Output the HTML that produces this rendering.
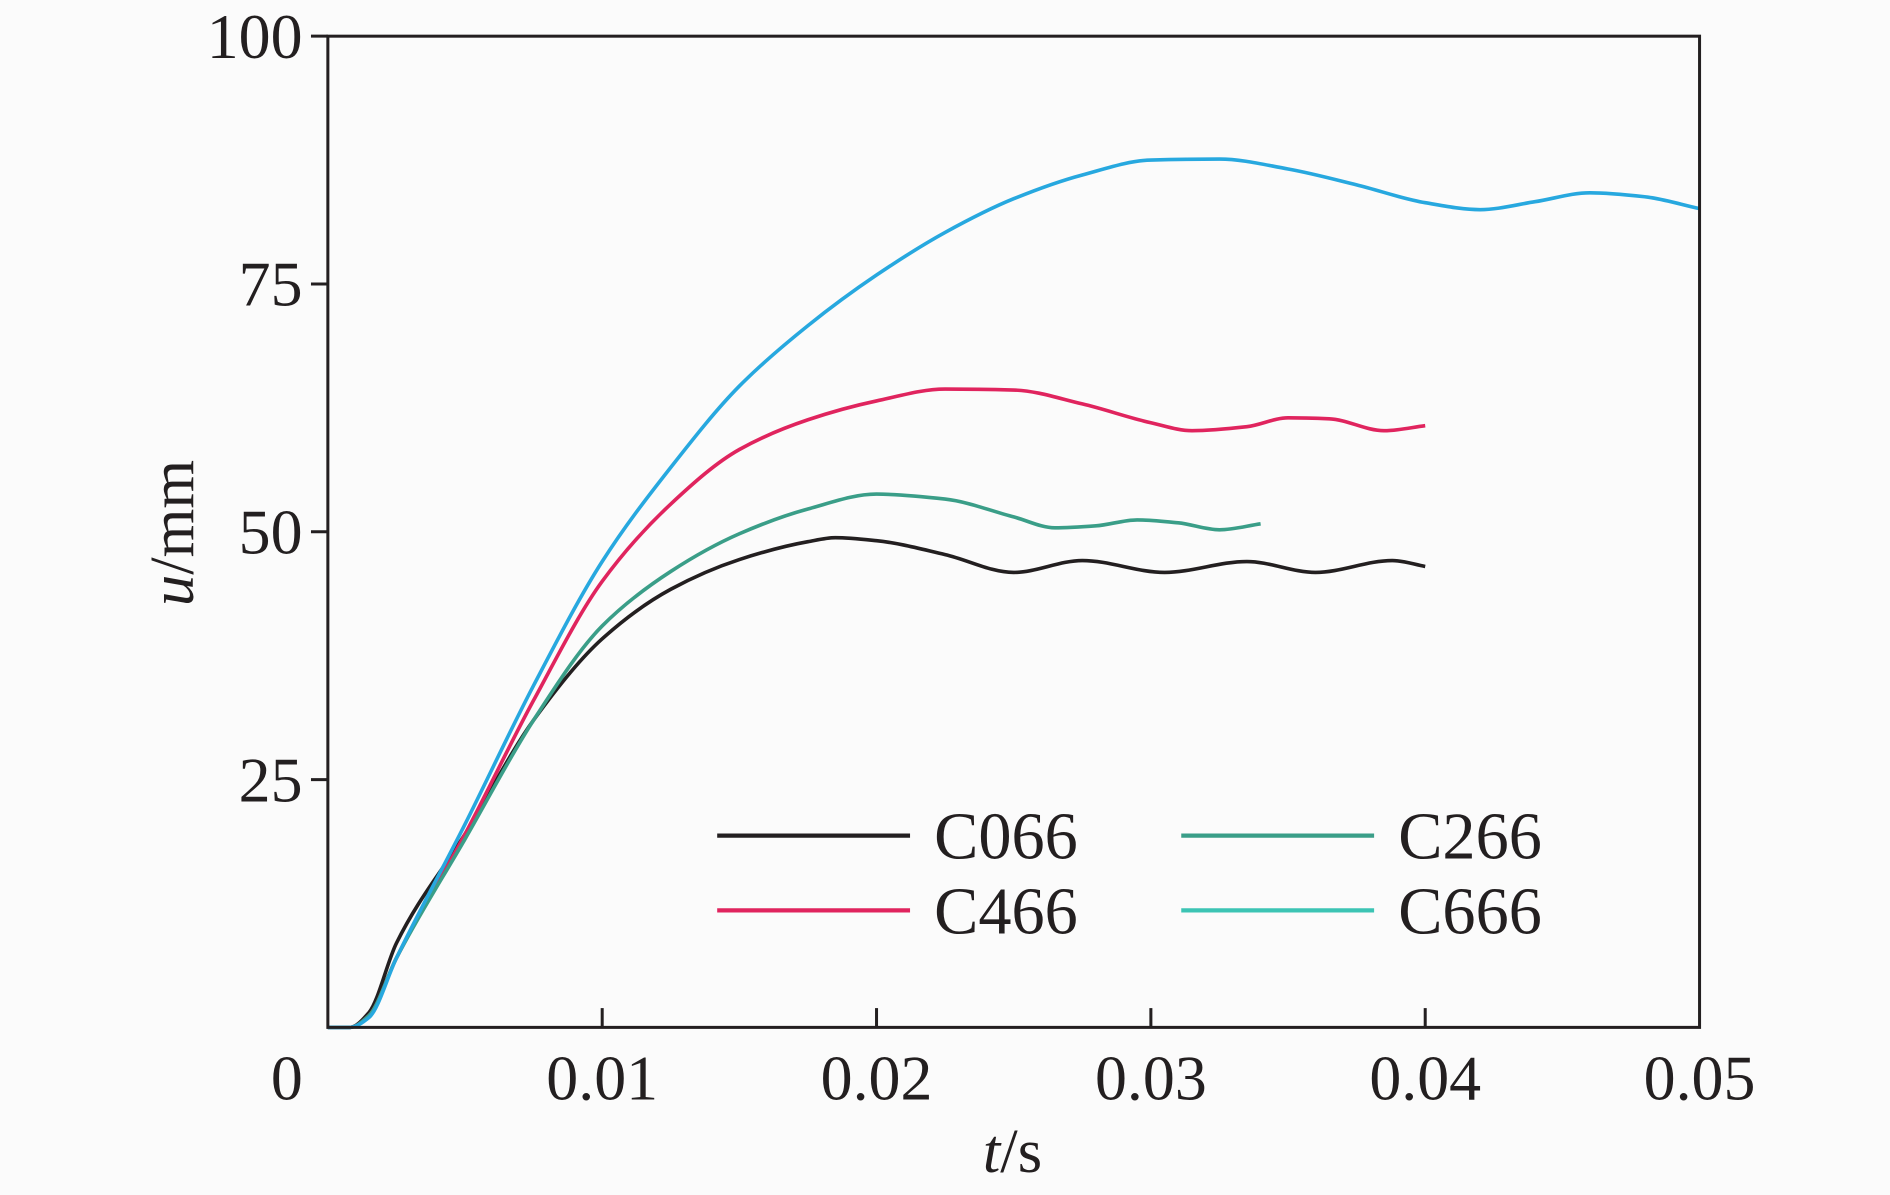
<!DOCTYPE html>
<html><head><meta charset="utf-8"><style>
html,body{margin:0;padding:0;background:#fbfbfb;}
svg{display:block;}
text{font-family:"Liberation Serif",serif;fill:#231f20;}
</style></head><body>
<svg id="chart" width="1890" height="1195" viewBox="0 0 1568 991" preserveAspectRatio="none" xmlns="http://www.w3.org/2000/svg">
<rect x="0" y="0" width="1568" height="991" fill="#fbfbfb"/>
<g id="series"></g>
<rect x="272" y="30" width="1138" height="822" fill="none" stroke="#231f20" stroke-width="2.5"/>
<g id="axes"></g>
<text x="840" y="972" font-size="52" text-anchor="middle"><tspan font-style="italic">t</tspan>/s</text>
<text transform="translate(160,442) rotate(-90)" font-size="52" text-anchor="middle"><tspan font-style="italic">u</tspan>/mm</text>
<g id="legend"></g>
</svg>
<script>
const xTicks=[0,0.01,0.02,0.03,0.04,0.05];
const xTickLabels=["0","0.01","0.02","0.03","0.04","0.05"];
const yTicks=[25,50,75,100];
const yTickLabels=["25","50","75","100"];
const seriesNames=["C066","C466","C266","C666"];
const seriesColors=["#231f20","#e0245e","#3a9e88","#27a8df"];
const legendColors=["#231f20","#e0245e","#3a9e88","#3cc4b4"];
const tC066=[0,0.0008,0.0015,0.0025,0.005,0.0075,0.01,0.0125,0.015,0.0175,0.0185,0.02,0.0225,0.025,0.0275,0.0305,0.0335,0.036,0.0388,0.04];
const uC066=[0,0,1.5,8.5,19.5,31,39.2,44.2,47.2,49,49.4,49.1,47.7,45.9,47.1,45.9,47.0,45.9,47.1,46.5];
const tC466=[0,0.0008,0.0015,0.0025,0.005,0.0075,0.01,0.0125,0.015,0.0175,0.02,0.0225,0.025,0.0275,0.03,0.0315,0.0335,0.035,0.0365,0.0385,0.04];
const uC466=[0,0,1.2,7,19.5,33,45,52.8,58.3,61.3,63.2,64.4,64.3,62.9,61,60.2,60.6,61.5,61.4,60.2,60.7];
const tC266=[0,0.0008,0.0015,0.0025,0.005,0.0075,0.01,0.0125,0.015,0.0175,0.02,0.0225,0.025,0.0265,0.028,0.0295,0.031,0.0325,0.034];
const uC266=[0,0,1.2,7,19,31,40.5,46,49.8,52.3,53.8,53.3,51.5,50.4,50.6,51.2,50.9,50.2,50.8];
const tC666=[0,0.0008,0.0015,0.0025,0.005,0.0075,0.01,0.0125,0.015,0.0175,0.02,0.0225,0.025,0.0275,0.03,0.0325,0.035,0.0375,0.04,0.042,0.044,0.046,0.048,0.05];
const uC666=[0,0,1,7,20.5,34.5,47,56.5,64.7,70.8,75.9,80.2,83.6,86,87.5,87.6,86.6,85,83.2,82.5,83.3,84.2,83.8,82.6];
const seriesT=[tC066,tC466,tC266,tC666];
const seriesU=[uC066,uC466,uC266,uC666];

const NS="http://www.w3.org/2000/svg";
const X0=272,X1=1410,Y0=852,Y1=30;
function xScale(t){return X0+(t-0)/(0.05)*(X1-X0);}
function yScale(u){return Y0-(u/100)*(Y0-Y1);}
function mk(tag,attrs,parent){const e=document.createElementNS(NS,tag);for(const k in attrs)e.setAttribute(k,attrs[k]);parent.appendChild(e);return e;}
function smoothPath(pts){
  // monotone-x cubic (Fritsch-Carlson style tangents)
  const n=pts.length;const m=new Array(n);const d=[];
  for(let i=0;i<n-1;i++)d.push((pts[i+1][1]-pts[i][1])/(pts[i+1][0]-pts[i][0]));
  m[0]=d[0];m[n-1]=d[n-2];
  for(let i=1;i<n-1;i++){
    if(d[i-1]*d[i]<=0)m[i]=0;
    else{const h0=pts[i][0]-pts[i-1][0],h1=pts[i+1][0]-pts[i][0];
      m[i]=(h0+h1)/((2*h1+h0)/(3*d[i-1])+(h1+2*h0)/(3*d[i]));}
  }
  let s="M"+pts[0][0]+","+pts[0][1];
  for(let i=0;i<n-1;i++){
    const h=(pts[i+1][0]-pts[i][0])/3;
    s+=" C"+(pts[i][0]+h)+","+(pts[i][1]+m[i]*h)+" "+(pts[i+1][0]-h)+","+(pts[i+1][1]-m[i+1]*h)+" "+pts[i+1][0]+","+pts[i+1][1];
  }
  return s;
}
const axes=document.getElementById("axes");
xTicks.forEach((t,i)=>{
  const x=xScale(t);
  if(i>0&&i<xTicks.length-1){const l=mk("line",{x1:x,x2:x,y1:Y0,y2:Y0-16,stroke:"#231f20","stroke-width":2.5},axes);
  
  }
  const tx=mk("text",{x:(i==0?238:x),y:912,"font-size":53,"text-anchor":"middle"},axes);
  tx.textContent=xTickLabels[i];
  
  
});
yTicks.forEach((u,i)=>{
  const y=yScale(u);
  const l=mk("line",{x1:X0,x2:X0-14,y1:y,y2:y,stroke:"#231f20","stroke-width":2.5},axes);
  
  
  const tx=mk("text",{x:251,y:y+18,"font-size":53,"text-anchor":"end"},axes);
  tx.textContent=yTickLabels[i];
  
  
});
const sg=document.getElementById("series");
seriesNames.forEach((n,i)=>{
  const pts=seriesT[i].map((t,j)=>[xScale(t),yScale(seriesU[i][j])]);
  const p=mk("path",{d:smoothPath(pts),fill:"none",stroke:seriesColors[i],"stroke-width":3},sg);
  
  
});
const lg=document.getElementById("legend");
const pos=[[595,693],[595,755],[980,693],[980,755]];
[[0,0],[1,1],[2,2],[3,3]].forEach(([si,pi])=>{
  const [x,y]=pos[pi];
  const l=mk("line",{x1:x,x2:x+160,y1:y,y2:y,stroke:legendColors[si],"stroke-width":3.5},lg);
  
  
  const t=mk("text",{x:x+180,y:y+19,"font-size":55},lg);
  t.textContent=seriesNames[si];
  
  
});
</script>
</body></html>
